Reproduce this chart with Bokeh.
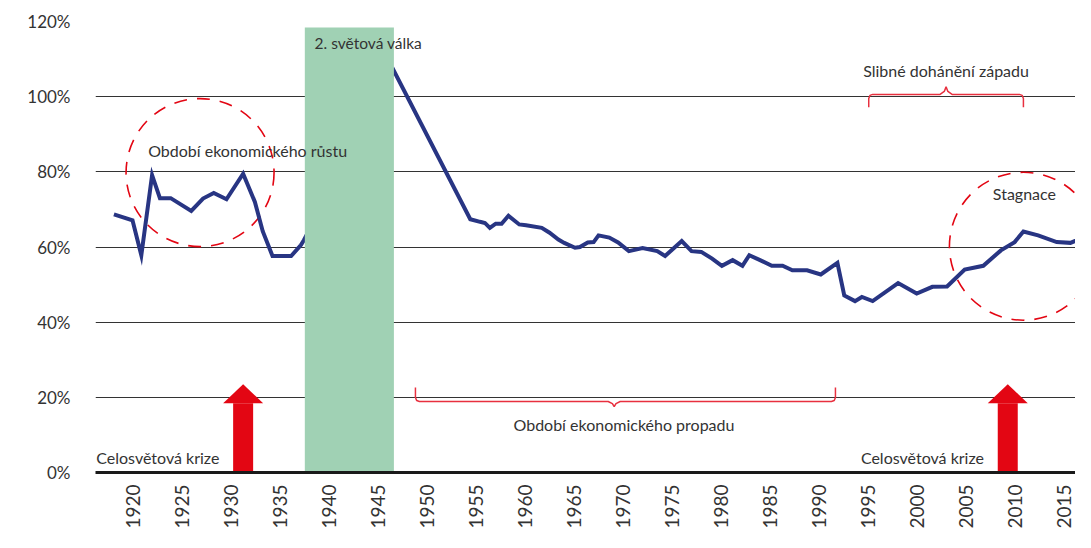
import math
from bokeh.plotting import figure
from bokeh.models import Range1d, FixedTicker
from bokeh.core.properties import value
from bokeh.embed import file_html
from bokeh.resources import INLINE

# ---------------- data ----------------
years = [1918.0, 1919.9, 1920.8, 1921.9, 1922.7, 1923.8, 1925.9, 1927.1, 1928.2,
         1929.5, 1931.2, 1932.4, 1933.2, 1934.2, 1936.1, 1937.1, 1937.4,
         1946.6, 1954.4, 1955.4, 1955.9, 1956.4, 1957.0, 1957.6, 1958.3, 1959.4,
         1960.1, 1961.7, 1962.5, 1963.4, 1964.0, 1965.1, 1965.6, 1966.4, 1967.0,
         1967.5, 1968.6, 1969.5, 1970.6, 1972.0, 1973.5, 1974.3, 1976.0, 1977.0,
         1978.0, 1979.1, 1980.1, 1981.2, 1982.2, 1982.9, 1984.0, 1985.2, 1986.3,
         1987.3, 1988.8, 1990.2, 1991.9, 1992.6, 1993.7, 1994.4, 1995.5, 1998.1,
         2000.0, 2001.6, 2003.1, 2004.9, 2006.8, 2008.6, 2010.0, 2010.9, 2012.4,
         2014.3, 2015.7, 2017.6]
values = [68.7, 67.1, 57.8, 79.1, 73.0, 73.0, 69.6, 72.9, 74.4,
          72.7, 79.5, 72.0, 64.2, 57.6, 57.6, 60.5, 61.8,
          106.9, 67.4, 66.7, 66.4, 65.1, 66.2, 66.2, 68.3, 66.0,
          65.8, 65.1, 63.8, 62.0, 61.1, 59.8, 60.0, 61.2, 61.3,
          63.1, 62.5, 61.2, 58.9, 59.7, 58.9, 57.6, 61.6, 58.9,
          58.7, 56.9, 55.0, 56.5, 55.0, 57.8, 56.5, 55.0, 55.0,
          53.8, 53.8, 52.7, 55.8, 47.1, 45.6, 46.7, 45.6, 50.4,
          47.6, 49.4, 49.5, 54.0, 55.0, 59.1, 61.3, 64.1, 63.1,
          61.3, 61.1, 63.1]

x_ticks = list(range(1920, 2020, 5))
y_ticks = [0, 20, 40, 60, 80, 100, 120]
y_tick_labels = ["0%", "20%", "40%", "60%", "80%", "100%", "120%"]

war_start, war_end, war_top = 1937.5, 1946.6, 118.4
war_label = "2. světová válka"

circle_x = [1926.8, 2010.9]
circle_y = [79.8, 60.2]

arrow_x = [1931.2, 2009.3]
arrow_tip = 23.5
arrow_head_base = 18.4

# brace: (x_start, x_end, x_mid, y_end, y_line, y_tip)
braces = [(1995.1, 2010.9, 2003.0, 97.2, 100.6, 102.6),
          (1948.8, 1991.7, 1969.1, 22.6, 18.9, 17.5)]

labels_left = [("Období ekonomického růstu", 1921.5, 85.8),
               ("Celosvětová krize", 1916.2, 3.9),
               ("Celosvětová krize", 1994.3, 3.9)]
labels_center = [("Slibné dohánění západu", 2003.0, 107.0),
                 ("Stagnace", 2011.0, 74.3),
                 ("Období ekonomického propadu", 1970.1, 12.9)]

# ---------------- layout ----------------
W, H = 1075, 532
BL, BR, BT, BB = 95, 0, 21, 60
X_START, X_END = 1916.12, 2016.22
px_per_year = (W - BL - BR) / (X_END - X_START)
px_per_pct = (H - BT - BB) / 120.0

FONT = "Lato"
TXT = "#333333"
RED = "#E30613"
NAVY = "#283583"
GREEN = "#A0D1B4"

p = figure(width=W, height=H, x_range=Range1d(X_START, X_END), y_range=Range1d(0, 120),
           output_backend="svg", toolbar_location=None,
           min_border_left=BL, min_border_right=BR, min_border_top=BT, min_border_bottom=BB)
p.outline_line_color = None
p.background_fill_color = "white"
p.border_fill_color = "white"

# grid
p.xgrid.grid_line_color = None
p.ygrid.grid_line_color = "#333333"
p.ygrid.grid_line_width = 1
p.ygrid.ticker = FixedTicker(ticks=y_ticks)

# y axis
p.yaxis.ticker = FixedTicker(ticks=y_ticks)
p.yaxis.major_label_overrides = {t: l for t, l in zip(y_ticks, y_tick_labels)}
p.yaxis.axis_line_color = None
p.yaxis.major_tick_line_color = None
p.yaxis.minor_tick_line_color = None
p.yaxis.major_tick_out = 0
p.yaxis.major_tick_in = 0
p.yaxis.minor_tick_out = 0
p.yaxis.minor_tick_in = 0
p.yaxis.major_label_standoff = 25
p.yaxis.major_label_text_font = FONT
p.yaxis.major_label_text_font_size = "17px"
p.yaxis.major_label_text_color = TXT

# x axis
p.xaxis.ticker = FixedTicker(ticks=x_ticks)
p.xaxis.axis_line_color = "#1a1a1a"
p.xaxis.axis_line_width = 3
p.xaxis.major_tick_line_color = None
p.xaxis.minor_tick_line_color = None
p.xaxis.major_tick_out = 0
p.xaxis.major_tick_in = 0
p.xaxis.minor_tick_out = 0
p.xaxis.minor_tick_in = 0
p.xaxis.major_label_orientation = math.pi / 2
p.xaxis.major_label_standoff = 12
p.xaxis.major_label_text_font = FONT
p.xaxis.major_label_text_font_size = "19px"
p.xaxis.major_label_text_color = TXT

# dashed circles
p.circle(x=circle_x, y=circle_y, radius=74, radius_units="screen",
         fill_color=None, line_color=RED, line_width=1.6, line_dash="13 10")

# main line
p.line(years, values, line_color=NAVY, line_width=4, line_join="miter")

# war band (covers line)
p.quad(left=[war_start], right=[war_end], bottom=[0], top=[war_top],
       fill_color=GREEN, line_color=None)
p.text(x=[war_start + 1.0], y=[114.2], text=[war_label], text_font=value(FONT),
       text_font_size="15.5px", text_color=TXT, text_baseline="middle", text_align="left")

# arrows
shaft_half = 10 / px_per_year
head_half = 20 / px_per_year
p.quad(left=[a - shaft_half for a in arrow_x], right=[a + shaft_half for a in arrow_x],
       bottom=[0] * len(arrow_x), top=[arrow_head_base] * len(arrow_x),
       fill_color=RED, line_color=None)
p.patches(xs=[[a - head_half, a, a + head_half] for a in arrow_x],
          ys=[[arrow_head_base, arrow_tip, arrow_head_base] for a in arrow_x],
          fill_color=RED, line_color=None)

# braces
def brace_path(x0, x1, xm, ye, yl, yt):
    rx = 4 / px_per_year
    ry = (4 / px_per_pct) * (1 if yl > ye else -1)
    dx = 6 / px_per_year
    xs = [x0, x0, x0 + rx * 0.3, x0 + rx,
          xm - dx, xm - dx * 0.3, xm,
          xm + dx * 0.3, xm + dx,
          x1 - rx, x1 - rx * 0.3, x1, x1]
    ys = [ye, yl - ry, yl - ry * 0.25, yl,
          yl, yl + (yt - yl) * 0.4, yt,
          yl + (yt - yl) * 0.4, yl,
          yl, yl - ry * 0.25, yl - ry, ye]
    return xs, ys

for b in braces:
    bx, by = brace_path(*b)
    p.line(bx, by, line_color="#E8303F", line_width=1.5)

# annotation texts
p.text(x=[l[1] for l in labels_left], y=[l[2] for l in labels_left],
       text=[l[0] for l in labels_left], text_font=value(FONT), text_font_size="16px",
       text_color=TXT, text_baseline="middle", text_align="left")
p.text(x=[l[1] for l in labels_center], y=[l[2] for l in labels_center],
       text=[l[0] for l in labels_center], text_font=value(FONT), text_font_size="16px",
       text_color=TXT, text_baseline="middle", text_align="center")

open("out.html", "w").write(file_html(p, INLINE))
